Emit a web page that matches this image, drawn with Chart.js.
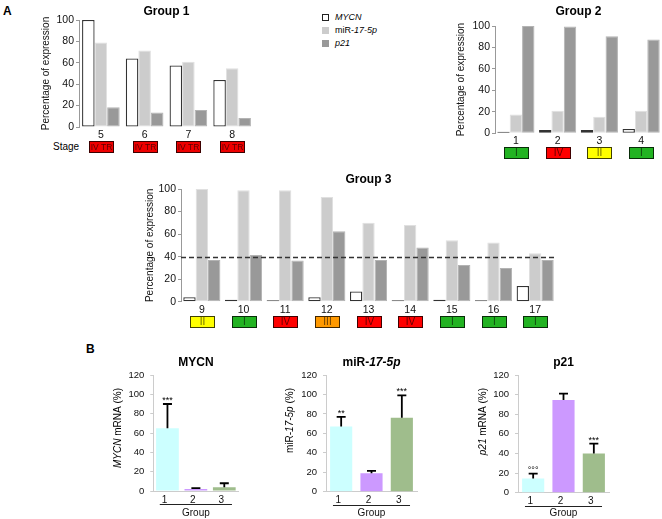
<!DOCTYPE html>
<html>
<head>
<meta charset="utf-8">
<script src="https://cdn.jsdelivr.net/npm/chart.js@4.4.1/dist/chart.umd.min.js"></script>
<style>
  body { margin: 0; background: #fff; width: 662px; height: 519px; position: relative; overflow: hidden;
         font-family: "Liberation Sans", Arial, sans-serif; color: #000; }
  canvas { position: absolute; }
  .txt { position: absolute; white-space: nowrap; }
  .sw { display: inline-block; width: 7px; height: 7px; margin-right: 6px; vertical-align: -1px; box-sizing: border-box; }
</style>
</head>
<body>
<div class="txt" style="left:3px;top:4px;font-weight:bold;font-size:12px">A</div>
<div class="txt" style="left:86px;top:342px;font-weight:bold;font-size:12px">B</div>
<div class="txt" style="left:53px;top:141px;font-size:10px">Stage</div>
<div class="txt" style="left:322px;top:11px;font-size:9px;line-height:13px">
  <div><span class="sw" style="background:#fff;border:1px solid #222"></span><i>MYCN</i></div>
  <div><span class="sw" style="background:#cccccc"></span>miR-<i>17-5p</i></div>
  <div><span class="sw" style="background:#999999"></span><i>p21</i></div>
</div>

<canvas id="group1" width="260" height="165" style="left:0;top:0"></canvas>
<canvas id="group2" width="222" height="165" style="left:440px;top:0"></canvas>
<canvas id="group3" width="460" height="175" style="left:110px;top:165px"></canvas>
<canvas id="mycnB" width="145" height="179" style="left:100px;top:340px"></canvas>
<canvas id="mirB" width="150" height="179" style="left:270px;top:340px"></canvas>
<canvas id="p21B" width="155" height="179" style="left:460px;top:340px"></canvas>

<script>
const FONT = '"Liberation Sans", Arial, sans-serif';
Chart.defaults.font.family = FONT;
Chart.defaults.color = '#111';

// Panel A, group 1 (patients 5-8)
const group1Labels = ['5', '6', '7', '8'];
const group1Mycn = [100, 64, 57.5, 44];
const group1Mir = [79, 71.5, 61, 55];
const group1P21 = [18.5, 13.5, 16, 8.5];
const group1Stages = ['IV TR', 'IV TR', 'IV TR', 'IV TR'];

// Panel A, group 2 (patients 1-4)
const group2Labels = ['1', '2', '3', '4'];
const group2Mycn = [1.5, 3, 3, 4];
const group2Mir = [17.5, 21, 15.5, 21];
const group2P21 = [100, 99.5, 90.5, 87.5];
const group2Stages = ['I', 'IV', 'II', 'I'];

// Panel A, group 3 (patients 9-17)
const group3Labels = ['9', '10', '11', '12', '13', '14', '15', '16', '17'];
const group3Mycn = [4, 1.8, 1.2, 4, 9, 1.2, 1.8, 1.2, 14];
const group3Mir = [100, 99, 99, 93, 70, 68, 54.5, 52.5, 43];
const group3P21 = [37, 41.5, 36.5, 62.5, 37, 48, 32.5, 30, 37];
const group3Stages = ['II', 'I', 'IV', 'III', 'IV', 'IV', 'I', 'I', 'I'];
const group3Cutoff = 40;

// Panel B, mean and SD per group
const bLabels = ['1', '2', '3'];
const mycnMean = [65, 2, 4];
const mycnSd = [25, 1, 4];
const mycnSig = ['***', '', ''];
const mirMean = [67, 19, 76];
const mirSd = [10, 2.5, 23];
const mirSig = ['**', '', '***'];
const p21Mean = [14.5, 94.5, 40];
const p21Sd = [5, 6.5, 10];
const p21Sig = ['°°°', '', '***'];

const stageFill = { 'I': '#22b322', 'II': '#ffff00', 'III': '#ff9900', 'IV': '#ff0000', 'IV TR': '#ee0000' };
const bColors = ['#ccffff', '#cc99ff', '#9fbd8c'];

// draws text made of plain / italic pieces, optionally rotated
function drawRich(ctx, parts, x, y, size, weight, angle, align) {
  ctx.save();
  ctx.translate(x, y);
  ctx.rotate(angle);
  const fonts = parts.map(p => (p.i ? 'italic ' : '') + weight + ' ' + size + 'px ' + FONT);
  let total = 0;
  const widths = parts.map((p, k) => {
    ctx.font = fonts[k];
    const w = ctx.measureText(p.t).width;
    total += w;
    return w;
  });
  let cx = align === 'end' ? -total : -total / 2;
  ctx.textBaseline = 'middle';
  ctx.textAlign = 'left';
  ctx.fillStyle = '#000';
  parts.forEach((p, k) => {
    ctx.font = fonts[k];
    ctx.fillText(p.t, cx, 0);
    cx += widths[k];
  });
  ctx.restore();
}

function stageBoxes(stages, fontSize) {
  return {
    id: 'stageBoxes',
    afterDraw(chart) {
      const ctx = chart.ctx;
      const x = chart.scales.x;
      const top = Math.round(chart.chartArea.bottom + 14);
      ctx.save();
      ctx.font = fontSize + 'px ' + FONT;
      ctx.textAlign = 'center';
      ctx.textBaseline = 'middle';
      stages.forEach((s, i) => {
        const cx = Math.round(x.getPixelForValue(i));
        ctx.fillStyle = stageFill[s];
        ctx.fillRect(cx - 12, top, 25, 12);
        ctx.strokeStyle = 'rgba(0,0,0,0.75)';
        ctx.lineWidth = 1;
        ctx.strokeRect(cx - 11.5, top + 0.5, 24, 11);
        ctx.fillStyle = 'rgba(0,0,0,0.62)';
        ctx.fillText(s, cx + 0.5, top + 6.5);
      });
      ctx.restore();
    }
  };
}

function cutoffLine(value) {
  return {
    id: 'cutoffLine',
    afterDatasetsDraw(chart) {
      const ctx = chart.ctx;
      const y = Math.round(chart.scales.y.getPixelForValue(value)) + 0.5;
      ctx.save();
      ctx.strokeStyle = '#333';
      ctx.lineWidth = 1.3;
      ctx.setLineDash([5, 3]);
      ctx.beginPath();
      ctx.moveTo(chart.chartArea.left, y);
      ctx.lineTo(chart.chartArea.right, y);
      ctx.stroke();
      ctx.restore();
    }
  };
}

function groupChart(id, title, labels, mycn, mir, p21, stages, lay) {
  const plugins = [stageBoxes(stages, lay.stageFont)];
  if (lay.cutoff !== undefined) plugins.push(cutoffLine(lay.cutoff));
  return new Chart(document.getElementById(id), {
    type: 'bar',
    data: {
      labels: labels,
      datasets: [
        { label: 'MYCN', data: mycn, backgroundColor: '#ffffff', borderColor: '#333333', borderWidth: 1.3, borderSkipped: false },
        { label: 'miR-17-5p', data: mir, backgroundColor: '#cccccc', borderColor: '#e0e0e0', borderWidth: 1, borderSkipped: false },
        { label: 'p21', data: p21, backgroundColor: '#999999', borderColor: '#b3b3b3', borderWidth: 1, borderSkipped: false }
      ]
    },
    options: {
      responsive: false,
      animation: false,
      devicePixelRatio: 1,
      layout: { padding: { left: 0, right: lay.padRight, top: 0, bottom: 0 } },
      datasets: { bar: { categoryPercentage: lay.catPct, barPercentage: 1 } },
      plugins: {
        legend: { display: false },
        tooltip: { enabled: false },
        title: {
          display: true, text: title, fullSize: false, color: '#000',
          font: { size: 12, weight: 'bold' },
          padding: { top: lay.titleTop, bottom: lay.titleBottom }
        }
      },
      scales: {
        x: {
          grid: { display: false, drawTicks: false },
          border: { display: false },
          ticks: { font: { size: 10.5 }, color: '#111', padding: 2, maxRotation: 0, autoSkip: false },
          afterFit: s => { s.height = lay.xHeight; }
        },
        y: {
          min: 0, max: 100,
          ticks: { stepSize: 20, font: { size: 10.5 }, color: '#111', padding: 2 },
          grid: { drawOnChartArea: false, tickLength: 3, color: '#999' },
          border: { color: '#999' },
          title: {
            display: true, text: 'Percentage of expression', color: '#111',
            font: { size: 10 }, padding: { top: lay.yTitlePad, bottom: 0 }
          },
          afterFit: s => { s.width = lay.yWidth; }
        }
      }
    },
    plugins: plugins
  });
}

function errorBars(sd, sig) {
  return {
    id: 'errorBars',
    afterDatasetsDraw(chart) {
      const ctx = chart.ctx;
      const y = chart.scales.y;
      const data = chart.data.datasets[0].data;
      ctx.save();
      ctx.strokeStyle = '#000';
      ctx.fillStyle = '#000';
      ctx.lineWidth = 1.8;
      ctx.font = '9px ' + FONT;
      ctx.textAlign = 'center';
      ctx.textBaseline = 'alphabetic';
      chart.getDatasetMeta(0).data.forEach((bar, i) => {
        const top = y.getPixelForValue(data[i] + sd[i]);
        ctx.beginPath();
        ctx.moveTo(bar.x, bar.y);
        ctx.lineTo(bar.x, top);
        ctx.moveTo(bar.x - 4.5, top);
        ctx.lineTo(bar.x + 4.5, top);
        ctx.stroke();
        if (sig[i]) ctx.fillText(sig[i], bar.x, top - 1);
      });
      ctx.restore();
    }
  };
}

function panelTexts(titleParts, yParts, lay) {
  return {
    id: 'panelTexts',
    afterDraw(chart) {
      const a = chart.chartArea;
      const ctx = chart.ctx;
      drawRich(ctx, titleParts, (a.left + a.right) / 2, a.top - 12, 12, 'bold', 0, 'center');
      drawRich(ctx, yParts, chart.scales.y.left + lay.yTitleX, a.top + 13, 10, 'normal', -Math.PI / 2, 'end');
      // line joining the group numbers
      const x = chart.scales.x;
      const n = chart.data.labels.length;
      const half = (x.getPixelForValue(1) - x.getPixelForValue(0)) * 0.27;
      const ly = Math.round(a.bottom + 13) + 0.5;
      ctx.save();
      ctx.strokeStyle = '#222';
      ctx.lineWidth = 1;
      ctx.beginPath();
      ctx.moveTo(x.getPixelForValue(0) - half, ly);
      ctx.lineTo(x.getPixelForValue(n - 1) + half, ly);
      ctx.stroke();
      ctx.restore();
    }
  };
}

function bChart(id, mean, sd, sig, titleParts, yParts, lay) {
  return new Chart(document.getElementById(id), {
    type: 'bar',
    data: {
      labels: bLabels,
      datasets: [{ data: mean, backgroundColor: bColors, barPercentage: lay.barPct, categoryPercentage: 1 }]
    },
    options: {
      responsive: false,
      animation: false,
      devicePixelRatio: 1,
      layout: { padding: { left: 0, right: lay.padRight, top: 35, bottom: 0 } },
      plugins: { legend: { display: false }, tooltip: { enabled: false } },
      scales: {
        x: {
          grid: { display: false, drawTicks: false },
          border: { display: true, color: '#cccccc' },
          ticks: { font: { size: 10 }, color: '#111', padding: 3, labelOffset: -3 },
          title: { display: true, text: 'Group', color: '#111', font: { size: 10 }, padding: { top: 0, bottom: 0 } },
          afterFit: s => { s.height = lay.xHeight; }
        },
        y: {
          min: 0, max: 120,
          ticks: { stepSize: 20, font: { size: 9.5 }, color: '#111', padding: 6 },
          grid: { drawOnChartArea: false, tickLength: 3, color: '#cccccc' },
          border: { color: '#cccccc' },
          afterFit: s => { s.width = lay.yWidth; }
        }
      }
    },
    plugins: [errorBars(sd, sig), panelTexts(titleParts, yParts, lay)]
  });
}

groupChart('group1', 'Group 1', group1Labels, group1Mycn, group1Mir, group1P21, group1Stages,
  { yWidth: 79, padRight: 6, titleTop: 4.5, titleBottom: 1.1, xHeight: 38, yTitlePad: 40.7, catPct: 0.86, stageFont: 8.5 });
groupChart('group2', 'Group 2', group2Labels, group2Mycn, group2Mir, group2P21, group2Stages,
  { yWidth: 55, padRight: 0, titleTop: 4.5, titleBottom: 7.1, xHeight: 31.7, yTitlePad: 15.7, catPct: 0.89, stageFont: 10 });
groupChart('group3', 'Group 3', group3Labels, group3Mycn, group3Mir, group3P21, group3Stages,
  { yWidth: 71, padRight: 14, titleTop: 7.8, titleBottom: 1.8, xHeight: 38.3, yTitlePad: 34, catPct: 0.89, stageFont: 10, cutoff: group3Cutoff });

bChart('mycnB', mycnMean, mycnSd, mycnSig,
  [{ t: 'MYCN' }], [{ t: 'MYCN', i: true }, { t: ' mRNA (%)' }],
  { yWidth: 53.25, padRight: 6.5, xHeight: 28, barPct: 0.8, yTitleX: 18.3 });
bChart('mirB', mirMean, mirSd, mirSig,
  [{ t: 'miR-' }, { t: '17-5p', i: true }], [{ t: 'miR-' }, { t: '17-5p', i: true }, { t: ' (%)' }],
  { yWidth: 56, padRight: 3, xHeight: 27.3, barPct: 0.73, yTitleX: 20.7 });
bChart('p21B', p21Mean, p21Sd, p21Sig,
  [{ t: 'p21' }], [{ t: 'p21', i: true }, { t: ' mRNA (%)' }],
  { yWidth: 58, padRight: 6, xHeight: 26.3, barPct: 0.73, yTitleX: 23 });
</script>
</body>
</html>
